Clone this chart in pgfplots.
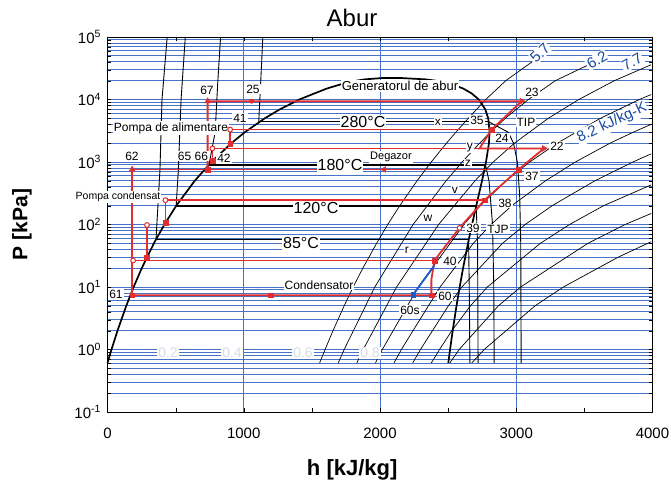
\documentclass[border=0pt]{standalone}
\usepackage{pgfplots}
\pgfplotsset{compat=1.18}
\usepackage{fontspec}
\setmainfont{Liberation Sans}
\definecolor{gridblue}{RGB}{70,115,200}
\definecolor{cyc}{RGB}{225,45,45}
\definecolor{cycblue}{RGB}{30,90,200}
\definecolor{qgray}{RGB}{215,220,230}
% label at a pixel position of the reference (x right, y down)
\newcommand{\lab}[4][]{\node[lbl,#1] at (axis description cs:{(#2-107.5)/545},{(412-#3)/375}) {#4};}
\newcommand{\fs}[1]{\fontsize{#1}{#1}\selectfont}

\begin{document}
\begin{tikzpicture}[lbl/.style={fill=white,inner sep=1pt,font=\fs{12}}]
\useasboundingbox (-107.5pt,-81pt) rectangle (563.5pt,412pt);
\begin{axis}[
    scale only axis, width=545pt, height=375pt,
    ymode=log,
    xmin=0, xmax=4000, ymin=0.1, ymax=100000,
    clip=false,
    xtick={0,1000,2000,3000,4000},
    xticklabels={0,1000,2000,3000,4000},
    minor xtick={500,1500,2500,3500},
    ytick={0.1,1,10,100,1000,10000,100000},
    yticklabels={10\textsuperscript{-1},10\textsuperscript{0},10\textsuperscript{1},10\textsuperscript{2},10\textsuperscript{3},10\textsuperscript{4},10\textsuperscript{5}},
    minor ytick={0.2,0.3,0.4,0.5,0.6,0.7,0.8,0.9,2,3,4,5,6,7,8,9,20,30,40,50,60,70,80,90,200,300,400,500,600,700,800,900,2000,3000,4000,5000,6000,7000,8000,9000,20000,30000,40000,50000,60000,70000,80000,90000},
    xmajorgrids, ymajorgrids, yminorgrids,
    major grid style={gridblue, line width=0.8pt},
    minor grid style={gridblue, line width=0.8pt},
    tick style={black}, major tick length=4pt, minor tick length=4pt,
    ticklabel style={font=\fs{15}},
    xticklabel style={yshift=-12pt},
    yticklabel style={xshift=-3pt},
    axis line style={black, line width=0.8pt},
    xlabel={h [kJ/kg]}, ylabel={P [kPa]},
    xlabel style={at={(axis description cs:0.449,-0.155)}, anchor=center, font=\fs{22}\bfseries},
    ylabel style={at={(axis description cs:-0.157,0.5)}, anchor=center, font=\fs{21}\bfseries},
]

% isentropes
\addplot[black, line width=0.7pt] coordinates {(1557,0.6113)(1597,1)(1655,2)(1737,5)(1803,10)(1874,20)(1975,50)(2057,100)(2145,200)(2272,500)(2376,1000)(2488,2000)(2557,3000)(2648,5000)(2776,10000)(2923,20000)(3116,40000)(3160,48000)};
\addplot[black, line width=0.7pt] coordinates {(1694,0.6113)(1737,1)(1962,10)(2243,100)(2485,500)(2603,1000)(2731,2000)(2811,3000)(2920,5000)(3089,10000)(3287,20000)(3520,35000)};
\addplot[black, line width=0.7pt] coordinates {(1830,0.6113)(1877,1)(2122,10)(2430,100)(2697,500)(2831,1000)(2987,2000)(3235,5000)(3459,10000)(3720,20000)(3990,36000)};
\addplot[black, line width=0.7pt] coordinates {(1967,0.6113)(2017,1)(2281,10)(2616,100)(2736,200)(2925,500)(3099,1000)(3300,2000)(3618,5000)(3903,10000)(3990,12000)};
\addplot[black, line width=0.7pt] coordinates {(2103,0.6113)(2157,1)(2441,10)(2685,50)(2815,100)(2967,200)(3214,500)(3434,1000)(3688,2000)(3859,3000)(3990,4000)};
\addplot[black, line width=0.7pt] coordinates {(2240,0.6113)(2297,1)(2502,5)(2601,10)(2899,50)(3066,100)(3263,200)(3577,500)(3856,1000)(3990,1350)};
\addplot[black, line width=0.7pt] coordinates {(2377,0.6113)(2437,1)(2527,2)(2664,5)(2788,10)(3177,50)(3391,100)(3641,200)(3990,430)};
\addplot[black, line width=0.7pt] coordinates {(2513,0.6113)(2581,1)(2869,5)(3032,10)(3526,50)(3799,100)(3990,150)};
\addplot[black, line width=0.7pt] coordinates {(2674,0.6113)(2765,1)(3138,5)(3346,10)(3748,30)(3990,53)};

% isotherms 85, 120, 180, 280 C
\addplot[black, line width=0.9pt] coordinates {(438,100000)(400,10000)(385,750)(356,57.8)};
\addplot[black, line width=1.4pt] coordinates {(356,57.8)(2650,57.8)};
\addplot[black, line width=0.9pt] coordinates {(2650,57.8)(2655,10)(2660,0.6113)};
\addplot[black, line width=0.9pt] coordinates {(571,100000)(540,10000)(520,750)(504,198.5)};
\addplot[black, line width=1.4pt] coordinates {(504,198.5)(2706,198.5)};
\addplot[black, line width=0.9pt] coordinates {(2706,198.5)(2716,50)(2720,0.6113)};
\addplot[black, line width=0.9pt] coordinates {(830,100000)(810,20000)(790,3000)(745,900)};
\addplot[black, line width=1.4pt] coordinates {(745,900)(2774,900)};
\addplot[black, line width=0.9pt] coordinates {(2774,900)(2800,500)(2826,100)(2835,10)(2838,0.6113)};
\addplot[black, line width=0.9pt] coordinates {(1140,100000)(1125,20000)(1110,4400)};
\addplot[black, line width=1.4pt] coordinates {(1110,4400)(2798,4400)};
\addplot[black, line width=0.9pt] coordinates {(2798,4400)(2941,3000)(2980,2000)(3008,1000)(3025,300)(3033,50)(3036,0.6113)};

% saturation dome
\addplot[black, line width=1.7pt] coordinates {(0,0.6113)(29.3,1)(73.5,2)(137.8,5)(191.8,10)(251.4,20)(340.5,50)(417.5,100)(504.7,200)(640.2,500)(762.8,1000)(908.8,2000)(1008.4,3000)(1154.2,5000)(1267,7000)(1407.6,10000)(1519,12500)(1610.5,15000)(1732,18000)(1826.3,20000)(1888,21000)(2011,22000)(2084,22064)(2165,22000)(2334,21000)(2409.7,20000)(2509,18000)(2610.5,15000)(2673,12500)(2724.7,10000)(2772.1,7000)(2794.3,5000)(2804.2,3000)(2799.5,2000)(2778.1,1000)(2748.7,500)(2706.7,200)(2675.5,100)(2645.9,50)(2609.7,20)(2584.7,10)(2561.5,5)(2533.5,2)(2514.2,1)(2501.4,0.6113)};

% cycle
\addplot[cyc, line width=1.8pt] coordinates {(181,7.4)(181,760)(3018,760)};
\addplot[cyc, line width=1.8pt] coordinates {(735,760)(735,9400)(3040,9400)(2819,3300)(2731,1650)(3203,1650)(3018,760)(2767,245)(2583,88)(2399,26.5)(2377,13)(2377,7.4)(181,7.4)};
\addplot[cyc, line width=1.8pt] coordinates {(900,1950)(900,3300)(2819,3300)};
\addplot[cyc, line width=1.8pt] coordinates {(770,1060)(770,1650)(2731,1650)};
\addplot[cyc, line width=1.8pt] coordinates {(425,106)(425,245)(2767,245)};
\addplot[cyc, line width=1.8pt] coordinates {(188,26.5)(2399,26.5)};
\addplot[cyc, line width=1.8pt] coordinates {(290,30)(290,98)};
\addplot[cycblue, line width=1.8pt] coordinates {(2244,7.6)(2399,22)};

\addplot[cyc, only marks, mark=square*, mark size=2.4pt] coordinates {(181,7.4)(1198,7.4)(2399,26.5)(2767,245)(3018,760)(2819,3300)(770,1060)(900,1950)(425,106)(290,30)(735,760)(2377,7.4)};
\addplot[cyc, only marks, mark=triangle*, mark size=3.4pt] coordinates {(181,760)(735,9400)};
\addplot[cyc, only marks, mark=triangle*, mark size=3.4pt, mark options={rotate=-90}] coordinates {(3040,9400)(3203,1650)};
\addplot[cyc, only marks, mark=triangle*, mark size=3.4pt, mark options={rotate=90}] coordinates {(2030,760)};
\addplot[cyc, only marks, mark=*, mark size=2.2pt] coordinates {(1058,9400)};
\addplot[cyc, only marks, mark=*, mark size=2.4pt, mark options={fill=white, line width=1pt}] coordinates {(900,3300)(770,1650)(425,245)(290,98)(188,26.5)(2583,88)};
\addplot[cycblue, only marks, mark=square*, mark size=2.4pt] coordinates {(2244,7.6)};

% labels
\lab[fill=none,font=\fs{24}]{352}{18}{Abur}
\lab[font=\fs{13}]{400}{86}{Generatorul de abur}
\lab{207}{90}{67}
\lab{253}{89}{25}
\lab{240}{118}{41}
\lab{224}{158}{42}
\lab{132}{156}{62}
\lab{193}{156}{65 66}
\lab{116}{294}{61}
\lab{171}{128}{Pompa de alimentare}
\lab[font=\fs{10.5}]{118}{197}{Pompa condensat}
\lab[font=\fs{16}]{363}{122}{280°C}
\lab[font=\fs{16}]{340}{165}{180°C}
\lab[font=\fs{16}]{316}{208}{120°C}
\lab[font=\fs{16}]{301}{243}{85°C}
\lab[font=\fs{11}]{391}{157}{Degazor}
\lab{438}{122}{x}
\lab{477}{120}{35}
\lab{526}{122}{TIP}
\lab{502}{138}{24}
\lab{470}{148}{y}
\lab{557}{146}{22}
\lab{468}{163}{z}
\lab{532}{176}{37}
\lab{532}{92}{23}
\lab{455}{190}{v}
\lab{505}{203}{38}
\lab{428}{218}{w}
\lab{473}{228}{39}
\lab{498}{229}{TJP}
\lab{407}{250}{r}
\lab{450}{261}{40}
\lab{445}{296}{60}
\lab{410}{310}{60s}
\lab{319}{285}{Condensator}
\lab[font=\fs{15},text=cycblue!80!black,rotate=45]{540}{53}{5.7}
\lab[font=\fs{15},text=cycblue!80!black,rotate=30]{597}{60}{6.2}
\lab[font=\fs{15},text=cycblue!80!black,rotate=30]{632}{62}{7.7}
\lab[font=\fs{15},text=cycblue!80!black,rotate=25]{612}{123}{8.2 kJ/kg-K}
\lab[font=\fs{14},text=qgray]{168}{353}{0.2}
\lab[font=\fs{14},text=qgray]{232}{353}{0.4}
\lab[font=\fs{14},text=qgray]{303}{353}{0.6}
\lab[font=\fs{14},text=qgray]{370}{353}{0.8}
\end{axis}
\end{tikzpicture}
\end{document}
